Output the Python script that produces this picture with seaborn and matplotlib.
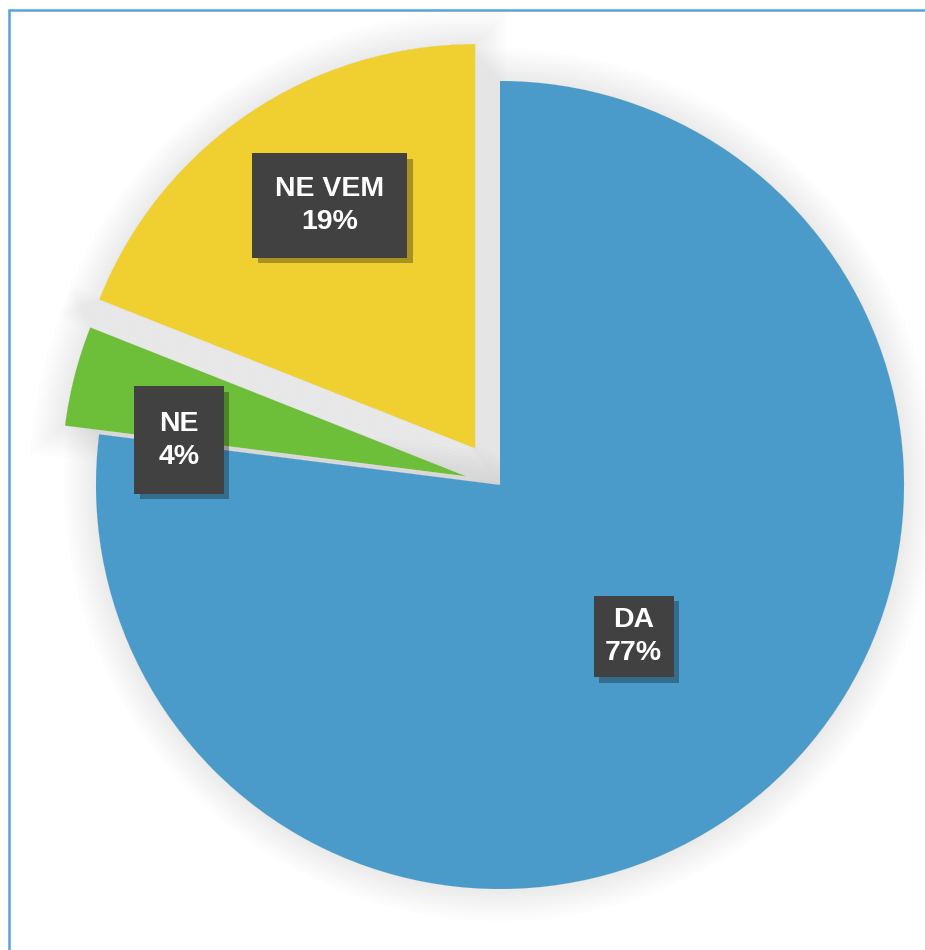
import numpy as np
import matplotlib
matplotlib.use("Agg")
import matplotlib.pyplot as plt
import matplotlib.patheffects as pe
from matplotlib.patches import Wedge, Rectangle
import seaborn as sns

# Data
categories = ["DA", "NE", "NE VEM"]
shares = [77, 4, 19]
explode = [0.0, 0.087, 0.11]

colors = ["#4a9bca", "#6dbf39", "#efd030"]
label_dist = [0.5, 0.716, 0.70]
label_turn = [0.0, 7.2, -3.3]  # degrees away from the slice mid-angle
box_pad = [0.4, 0.85, 0.8]

sns.set_theme(style="white")
plt.rcParams["font.family"] = ["Liberation Sans", "DejaVu Sans"]

fig = plt.figure(figsize=(9.25, 9.5), dpi=100)
ax = fig.add_axes([0, 0, 1, 1])

wedges, _ = ax.pie(
    shares,
    colors=colors,
    explode=explode,
    startangle=90,
    counterclock=False,
    radius=1.0,
    wedgeprops=dict(linewidth=0, zorder=3),
)

# soft grey glow behind every slice
for w in wedges:
    glow = Wedge(w.center, w.r, w.theta1, w.theta2, facecolor="#e6e6e6",
                 edgecolor="none", zorder=1)
    glow.set_path_effects(
        [pe.withStroke(linewidth=lw, foreground="black", alpha=0.009)
         for lw in np.linspace(46, 4, 10)] + [pe.Normal()]
    )
    ax.add_patch(glow)

# labels in dark boxes
for w, name, val, d, turn, pad in zip(wedges, categories, shares,
                                      label_dist, label_turn, box_pad):
    mid = np.deg2rad((w.theta1 + w.theta2) / 2 + turn)
    cx, cy = w.center
    t = ax.text(cx + d * np.cos(mid), cy + d * np.sin(mid), f"{name}\n{val}%",
                ha="center", va="center", color="white", fontsize=20.5,
                fontweight="bold", linespacing=1.35, zorder=6,
                bbox=dict(boxstyle=f"square,pad={pad}", facecolor="#414141",
                          edgecolor="none"))
    t.get_bbox_patch().set_path_effects(
        [pe.SimplePatchShadow(offset=(4, -4), shadow_rgbFace="black", alpha=0.3),
         pe.Normal()])

# match pixel geometry: centre at (500, 485) px, radius ~404 px
r_px = 404
ax.set_xlim(-500 / r_px, 425 / r_px)
ax.set_ylim(-465 / r_px, 485 / r_px)
ax.set_aspect("equal", adjustable="datalim")
ax.axis("off")

# light blue outer frame (right and bottom edges fall outside the image)
frame = Rectangle((8.5 / 925, -0.5), 1.5, (1 - 9.5 / 950) + 0.5,
                  transform=fig.transFigure, fill=False,
                  edgecolor="#5aa3d8", linewidth=1.8, clip_on=False)
fig.patches.append(frame)

fig.savefig("out.png", dpi=100, facecolor="white")
